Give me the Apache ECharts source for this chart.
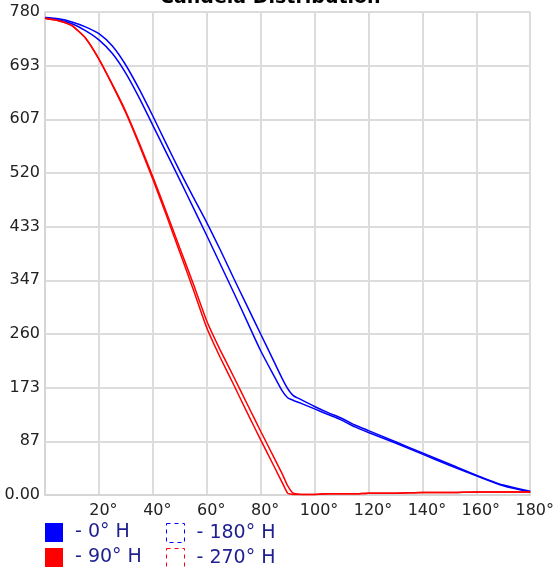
<!DOCTYPE html>
<html><head><meta charset="utf-8">
<script src="https://cdn.jsdelivr.net/npm/echarts@6/dist/echarts.min.js"></script>
<style>html,body{margin:0;padding:0;background:#fff}#c{width:557px;height:567px}</style>
</head><body><div id="c"></div>
<script>
var titleText = 'Candela Distribution';
var angles = [0,5,10,15,20,25,30,35,40,45,50,55,60,65,70,75,80,85,88,90,92,95,100,105,110,115,120,130,140,150,160,170,180];
var h0   = [770,767,761,750,735,713,681,641,597,553,509,464,419,373,327,280,233,192,168,157,153,148,139,130,121,110,101,84,66,48,31,15,5];
var h180 = [771,769,764,756,745,725,694,655,612,567,523,481,440,396,350,305,260,215,188,172,161,154,143,133,124,113,104,86,68,50,32,16,6];
var h90  = [770,766,758,738,704,662,617,565,510,452,392,332,270,222,178,133,89,46,20,3,1,1,1,2,2,2,3,3,4,4,5,5,5];
var h270 = [770,766,758,738,704,663,619,568,514,457,399,341,281,234,191,147,103,60,34,15,3,1,1,2,2,2,3,3,4,4,5,5,5];
var seriesNames = ['0° H','180° H','90° H','270° H'];
var yTickLabels = ['0.00','87','173','260','347','433','520','607','693','780'];
var xTickLabels = ['','20°','40°','60°','80°','100°','120°','140°','160°','180°'];

function pairs(vals){ return angles.map(function(a,i){ return [a, vals[i]]; }); }
var font = 'DejaVu Sans';
var chart = echarts.init(document.getElementById('c'), null, {renderer:'canvas'});
var legendText = {color:'#1f1f8f', fontSize:19, fontFamily:font, padding:[0,0,0,7]};
function leg(name, left, top, style){
  return {left:left, top:top, icon:'rect', itemWidth:18, itemHeight:19, formatter:'- {name}', textStyle:legendText,
    data:[{name:name, itemStyle:style}]};
}
chart.setOption({
  animation:false,
  backgroundColor:'#fff',
  title:{text:titleText, left:155, top:-16, textStyle:{fontSize:19, fontWeight:'bold', fontFamily:font, color:'#000', lineHeight:19}},
  grid:{left:45, top:12, right:25, bottom:72, containLabel:false},
  legend:[
    leg(seriesNames[0], 40, 518, {color:'#0000ff'}),
    leg(seriesNames[1], 161, 518, {color:'#fff', borderColor:'#0000ff', borderWidth:1, borderType:[4,4]}),
    leg(seriesNames[2], 40, 543, {color:'#ff0000'}),
    leg(seriesNames[3], 161, 543, {color:'#fff', borderColor:'#ff0000', borderWidth:1, borderType:[4,4]})
  ],
  xAxis:{type:'value', min:0, max:180, interval:20,
    axisLine:{lineStyle:{color:'#d6d6d6', width:2}}, axisTick:{show:false},
    splitLine:{show:true, lineStyle:{color:'#dcdcdc', width:2}},
    axisLabel:{color:'#222', fontSize:16, fontFamily:font, margin:8, padding:[0,0,0,9], showMinLabel:true,
      formatter:function(v){ return xTickLabels[Math.round(v/20)] || ''; }}},
  yAxis:{type:'value', min:0, max:780, interval:780/9,
    axisLine:{show:true, lineStyle:{color:'#d6d6d6', width:2}}, axisTick:{show:false},
    splitLine:{show:true, lineStyle:{color:'#dcdcdc', width:2}},
    axisLabel:{color:'#222', fontSize:16, fontFamily:font, margin:5,
      formatter:function(v){ return yTickLabels[Math.round(v/(780/9))]; }}},
  series:[
    {name:seriesNames[0], type:'line', data:pairs(h0), showSymbol:false, smooth:0.25, lineStyle:{color:'#0000ff', width:1.5}, itemStyle:{color:'#0000ff'}},
    {name:seriesNames[1], type:'line', data:pairs(h180), showSymbol:false, smooth:0.25, lineStyle:{color:'#0000ff', width:1.5}, itemStyle:{color:'#0000ff'}},
    {name:seriesNames[2], type:'line', data:pairs(h90), showSymbol:false, smooth:0.15, lineStyle:{color:'#ff0000', width:1.5}, itemStyle:{color:'#ff0000'}},
    {name:seriesNames[3], type:'line', data:pairs(h270), showSymbol:false, smooth:0.15, lineStyle:{color:'#ff0000', width:1.5}, itemStyle:{color:'#ff0000'}}
  ]
});
</script></body></html>
